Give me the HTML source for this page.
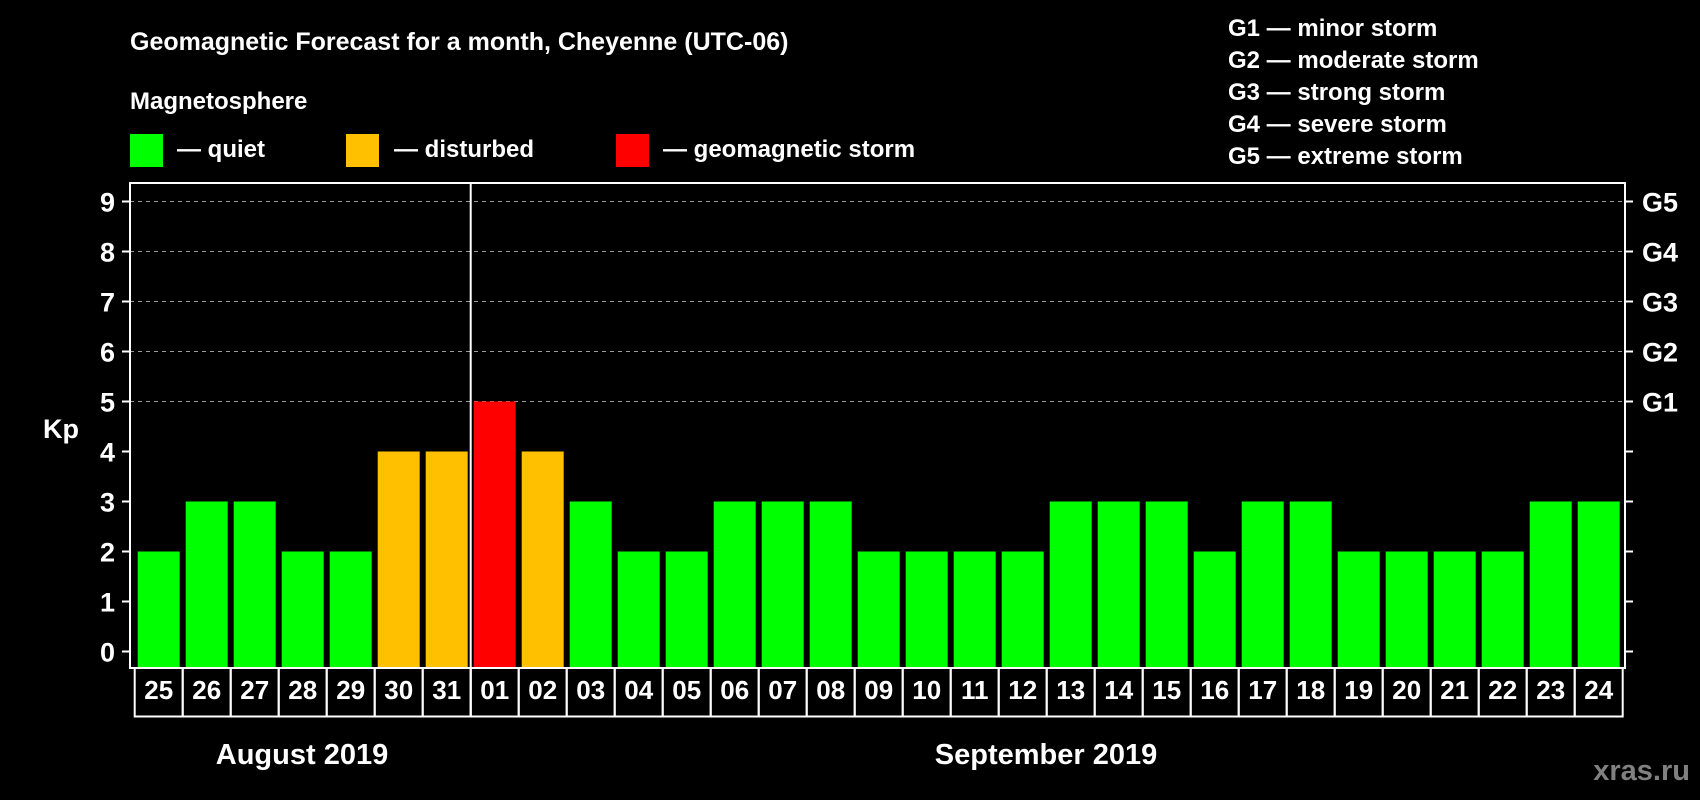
<!DOCTYPE html>
<html><head><meta charset="utf-8"><style>
html,body{margin:0;padding:0;background:#000;width:1700px;height:800px;overflow:hidden}
svg{display:block}
text{font-family:"Liberation Sans",Arial,sans-serif;font-weight:bold;fill:#fff}
</style></head><body>
<svg id="chart" width="1700" height="800" viewBox="0 0 1700 800">
<text x="130" y="50" font-size="25">Geomagnetic Forecast for a month, Cheyenne (UTC-06)</text>
<text x="130" y="109" font-size="24">Magnetosphere</text>
<g><rect x="130" y="134" width="33" height="33" fill="#00ff00"/><text x="177" y="157" font-size="24">— quiet</text></g>
<g><rect x="346" y="134" width="33" height="33" fill="#ffc000"/><text x="394" y="157" font-size="24">— disturbed</text></g>
<g><rect x="616" y="134" width="33" height="33" fill="#ff0000"/><text x="663" y="157" font-size="24">— geomagnetic storm</text></g>
<g font-size="24">
<text x="1228" y="36">G1 — minor storm</text>
<text x="1228" y="68">G2 — moderate storm</text>
<text x="1228" y="100">G3 — strong storm</text>
<text x="1228" y="132">G4 — severe storm</text>
<text x="1228" y="164">G5 — extreme storm</text>
</g>
<text x="43" y="438" font-size="27">Kp</text>
<g id="grid"></g><g id="bars"></g><g id="axes"></g>
<text x="302" y="764" font-size="29" text-anchor="middle">August 2019</text>
<text x="1046" y="764" font-size="29" text-anchor="middle">September 2019</text>
<text x="1690" y="780" font-size="29" text-anchor="end" style="fill:#808080">xras.ru</text>
</svg>
<script>
const days = ["25","26","27","28","29","30","31","01","02","03","04","05","06","07","08","09","10","11","12","13","14","15","16","17","18","19","20","21","22","23","24"];
const kp = [2,3,3,2,2,4,4,5,4,3,2,2,3,3,3,2,2,2,2,3,3,3,2,3,3,2,2,2,2,3,3];
const yTicks = [0,1,2,3,4,5,6,7,8,9];
const gLabels = ["G1","G2","G3","G4","G5"];
const gLevels = [5,6,7,8,9];
const NS="http://www.w3.org/2000/svg";
const L=130,R=1625,T=183,B=668,cellX0=134.7,cellW=48,boxB=716.5;
function y(v){return 651.5-50*v;}
function x(i){return cellX0+i*cellW;}
function mk(tag,attrs,parent){const e=document.createElementNS(NS,tag);for(const k in attrs)e.setAttribute(k,attrs[k]);parent.appendChild(e);return e;}
const grid=document.getElementById('grid'),bars=document.getElementById('bars'),axes=document.getElementById('axes');
yTicks.forEach(v=>{
  if(v>=5){const g=mk('line',{x1:L,x2:R,y1:y(v),y2:y(v),stroke:'#999','stroke-width':1,'stroke-dasharray':'4,4'},grid);
  
  }
  const t=mk('line',{x1:122,x2:L,y1:y(v),y2:y(v),stroke:'#fff','stroke-width':2},axes);
  
  
  const lb=mk('text',{x:115,y:y(v)+10,'font-size':27,'text-anchor':'end'},axes);lb.textContent=v;
  
  
  const rt=mk('line',{x1:R,x2:R+8,y1:y(v),y2:y(v),stroke:'#fff','stroke-width':2},axes);
  
  
});
gLevels.forEach((v,i)=>{
  const lb=mk('text',{x:1642,y:y(v)+10,'font-size':27},axes);lb.textContent=gLabels[i];
  
  
});
kp.forEach((v,i)=>{
  const c=v>=5?'#ff0000':(v>=4?'#ffc000':'#00ff00');
  const r=mk('rect',{x:x(i)+3,y:y(v),width:42,height:B-y(v),fill:c},bars);
  
  
  const cell=mk('rect',{x:x(i),y:B,width:cellW,height:boxB-B,fill:'none',stroke:'#fff','stroke-width':2},axes);
  
  
  const t=mk('text',{x:x(i)+cellW/2,y:699,'font-size':26,'text-anchor':'middle'},axes);t.textContent=days[i];
  
  
});
const fr=mk('rect',{x:L,y:T,width:R-L,height:B-T,fill:'none',stroke:'#fff','stroke-width':2},axes);


const sx=x(days.indexOf("01"));
const sep=mk('line',{x1:sx,x2:sx,y1:T,y2:boxB,stroke:'#fff','stroke-width':2},axes);


</script>
</body></html>
